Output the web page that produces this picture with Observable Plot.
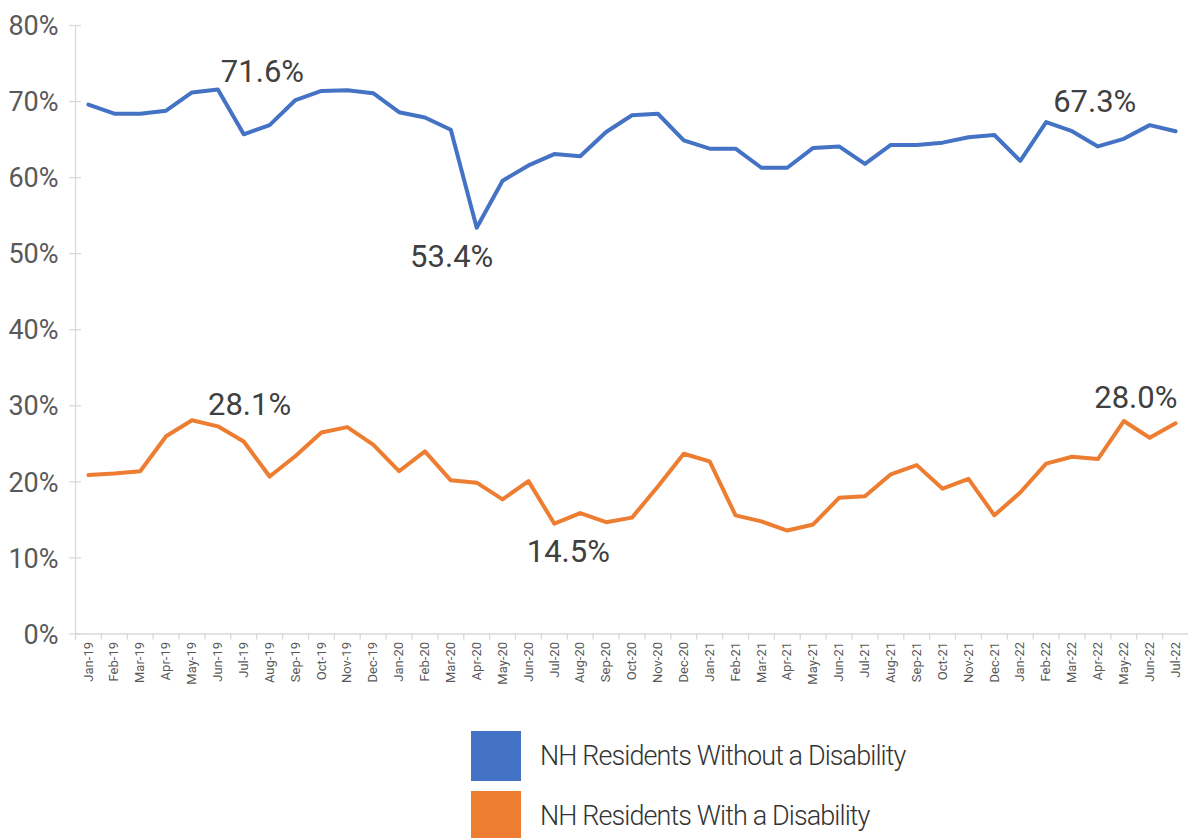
<!DOCTYPE html>
<html>
<head>
<meta charset="utf-8">
<script src="https://cdn.jsdelivr.net/npm/d3@7"></script>
<script src="https://cdn.jsdelivr.net/npm/@observablehq/plot@0.6"></script>
<style>
  html, body { margin: 0; padding: 0; background: #fff; }
  body { width: 1188px; height: 838px; overflow: hidden; font-family: Roboto, sans-serif; }
  #chart svg { display: block; }
  #chart g[aria-label="data-label"] text { letter-spacing: -1.2px; font-weight: 300; }
  #chart g[aria-label="y-label"] text { letter-spacing: -0.5px; font-weight: 300; }
  #chart g[aria-label="x-label"] text { font-weight: 300; }
  #legend { margin-top: 31px; padding-left: 471px; }
  .row { display: flex; align-items: center; height: 50px; margin-bottom: 10px; }
  .sw { width: 50px; height: 50px; flex: none; }
  .lab { margin-left: 19px; font-size: 27px; font-weight: 300; letter-spacing: -0.9px; color: #333; white-space: nowrap; }
</style>
</head>
<body>
<div id="chart"></div>
<div id="legend"></div>
<script>
const months = ["Jan-19","Feb-19","Mar-19","Apr-19","May-19","Jun-19","Jul-19","Aug-19","Sep-19","Oct-19","Nov-19","Dec-19",
  "Jan-20","Feb-20","Mar-20","Apr-20","May-20","Jun-20","Jul-20","Aug-20","Sep-20","Oct-20","Nov-20","Dec-20",
  "Jan-21","Feb-21","Mar-21","Apr-21","May-21","Jun-21","Jul-21","Aug-21","Sep-21","Oct-21","Nov-21","Dec-21",
  "Jan-22","Feb-22","Mar-22","Apr-22","May-22","Jun-22","Jul-22"];

const withoutDisability = [69.6,68.4,68.4,68.8,71.2,71.6,65.7,66.9,70.2,71.4,71.5,71.1,
  68.6,67.9,66.3,53.4,59.6,61.6,63.1,62.8,66.0,68.2,68.4,64.9,
  63.8,63.8,61.3,61.3,63.9,64.1,61.8,64.3,64.3,64.6,65.3,65.6,
  62.2,67.3,66.1,64.1,65.1,66.9,66.1];

const withDisability = [20.9,21.1,21.4,26.0,28.1,27.3,25.3,20.7,23.4,26.5,27.2,24.9,
  21.4,24.0,20.2,19.9,17.7,20.1,14.5,15.9,14.7,15.3,19.4,23.7,
  22.7,15.6,14.8,13.6,14.4,17.9,18.1,21.0,22.2,19.1,20.4,15.6,
  18.6,22.4,23.3,23.0,28.0,25.8,27.7];

const seriesNames = ["NH Residents Without a Disability", "NH Residents With a Disability"];
const seriesColors = ["#4472C4", "#ED7D31"];
const yTicks = [0, 10, 20, 30, 40, 50, 60, 70, 80];

// labelled points: series index and month
const labelled = [
  {s: 0, m: "Jun-19"}, {s: 0, m: "Apr-20"}, {s: 0, m: "Feb-22"},
  {s: 1, m: "May-19"}, {s: 1, m: "Jul-20"}, {s: 1, m: "May-22"}
];
// label placement styling (pixel offsets)
const labelStyle = [
  {anchor: "start", dx: 3, dy: -17},
  {anchor: "middle", dx: -25, dy: 29},
  {anchor: "start", dx: 7, dy: -20},
  {anchor: "start", dx: 16, dy: -15},
  {anchor: "middle", dx: 14, dy: 28},
  {anchor: "middle", dx: 12, dy: -23}
];

const seriesValues = [withoutDisability, withDisability];
const rows = [];
seriesValues.forEach((vals, s) => vals.forEach((v, i) => rows.push({s, i, month: months[i], v})));

const labelRows = labelled.map((d, k) => {
  const i = months.indexOf(d.m);
  return {i, v: seriesValues[d.s][i], ...labelStyle[k]};
});

const grid = "#d9d9d9";
const axisText = "#595959";
const boundaries = d3.range(-0.5, months.length, 1);
const fontFam = "Roboto, sans-serif";

const marks = [
  Plot.ruleX([-0.5], {y1: 0, y2: -0.8, stroke: grid, strokeWidth: 1.3}),
  Plot.ruleX([-0.5], {y1: 0, y2: 80, stroke: grid, strokeWidth: 1.3}),
  Plot.ruleY([0], {x1: -0.5, x2: months.length - 0.5, stroke: grid, strokeWidth: 1.3}),
  Plot.ruleX(boundaries, {y1: 0, y2: -0.8, stroke: grid, strokeWidth: 1.3}),
  Plot.ruleY(yTicks, {x1: -0.73, x2: -0.27, stroke: grid, strokeWidth: 1.3}),
  Plot.text(yTicks, {x: -0.5, y: d => d, text: d => d + "%", textAnchor: "end", dx: -17, dy: 1,
    fontSize: 27, fill: axisText, fontFamily: fontFam, ariaLabel: "y-label"}),
  Plot.text(months, {x: (d, i) => i, y: 0, text: d => d, rotate: -90, textAnchor: "end", dy: 8,
    fontSize: 13, fill: axisText, fontFamily: fontFam, ariaLabel: "x-label"}),
  Plot.line(rows, {x: "i", y: "v", z: "s", stroke: d => seriesColors[d.s], strokeWidth: 4,
    strokeLinejoin: "round", strokeLinecap: "round", curve: "linear"})
];
labelRows.forEach(d => {
  marks.push(Plot.text([d], {x: "i", y: "v", text: r => r.v.toFixed(1) + "%", textAnchor: d.anchor,
    dx: d.dx, dy: d.dy, fontSize: 31, fill: "#404040", fontFamily: fontFam, ariaLabel: "data-label"}));
});

const chart = Plot.plot({
  width: 1188,
  height: 700,
  marginLeft: 75,
  marginRight: 0,
  marginTop: 25,
  marginBottom: 66.5,
  x: {type: "linear", domain: [-0.5, months.length - 0.5], axis: null},
  y: {type: "linear", domain: [0, 80], axis: null},
  style: {fontFamily: fontFam, background: "white", overflow: "visible"},
  marks
});
document.getElementById("chart").appendChild(chart);

const legend = document.getElementById("legend");
seriesNames.forEach((name, k) => {
  const row = document.createElement("div");
  row.className = "row";
  const sw = document.createElement("div");
  sw.className = "sw";
  sw.style.background = seriesColors[k];
  const lab = document.createElement("div");
  lab.className = "lab";
  lab.textContent = name;
  row.appendChild(sw);
  row.appendChild(lab);
  legend.appendChild(row);
});
</script>
</body>
</html>
